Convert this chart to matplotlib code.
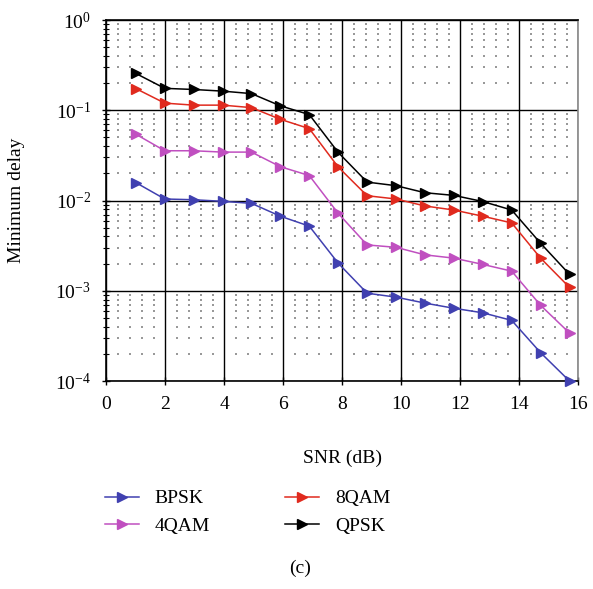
import matplotlib
matplotlib.use('agg')
import matplotlib.pyplot as plt
import numpy as np
from matplotlib.ticker import LogLocator, MultipleLocator, NullFormatter

plt.rcParams['font.family'] = ['Liberation Serif', 'DejaVu Serif']
plt.rcParams['mathtext.fontset'] = 'stix'

snr = [1.0, 1.98, 2.96, 3.94, 4.92, 5.9, 6.88, 7.86, 8.84, 9.82,
       10.8, 11.78, 12.76, 13.74, 14.72, 15.7]

bpsk = [0.0158, 0.0104, 0.0102, 0.0098, 0.0093, 0.0067, 0.0052, 0.00202,
        0.00094, 0.00085, 0.00073, 0.00064, 0.00057, 0.00047, 0.000206, 0.0001]
qam4 = [0.0543, 0.0356, 0.0356, 0.0344, 0.0344, 0.0237, 0.0189, 0.0072,
        0.00322, 0.00303, 0.0025, 0.0023, 0.00196, 0.00165, 0.00069, 0.00034]
qam8 = [0.174, 0.12, 0.114, 0.114, 0.107, 0.0794, 0.0626, 0.0235,
        0.0113, 0.0104, 0.0087, 0.00785, 0.0067, 0.00565, 0.0023, 0.00109]
qpsk = [0.256, 0.175, 0.170, 0.163, 0.153, 0.112, 0.0896, 0.0341,
        0.016, 0.0146, 0.0122, 0.0114, 0.00975, 0.00785, 0.00336, 0.00152]

series = [('BPSK', bpsk, '#4040b0'), ('4QAM', qam4, '#c04fc0'),
          ('8QAM', qam8, '#e02a1e'), ('QPSK', qpsk, '#000000')]

fig = plt.figure(figsize=(5.93, 5.89), dpi=100)
ax = fig.add_axes([0.1793, 0.3531, 0.7960, 0.6129])

ax.set_yscale('log')
ax.set_xlim(0, 16)
ax.set_ylim(1e-4, 1)

# dotted minor grid: dots at minor-x / minor-y intersections
xm = [v for v in np.arange(0.4, 16, 0.4) if abs(v / 2 - round(v / 2)) > 1e-6]
ym = [m * 10.0 ** e for e in range(-4, 0) for m in range(2, 10)]
gx, gy = np.meshgrid(xm, ym)
ax.scatter(gx.ravel(), gy.ravel(), s=0.7, marker='s', color='#999999',
           linewidths=0, zorder=1)

ax.grid(which='major', color='black', linewidth=1.0, zorder=1)

handles = []
for name, vals, col in series:
    h, = ax.plot(snr, vals, color=col, marker='>', markersize=7,
                 linewidth=1.1, label=name, zorder=3, clip_on=False)
    handles.append(h)

ax.xaxis.set_major_locator(MultipleLocator(2))
ax.yaxis.set_major_locator(LogLocator(base=10, numticks=10))
ax.yaxis.set_minor_locator(LogLocator(base=10, subs=np.arange(2, 10), numticks=10))
ax.yaxis.set_minor_formatter(NullFormatter())
ax.tick_params(axis='both', which='major', direction='inout', length=6,
               width=1.0, labelsize=14)
ax.tick_params(axis='x', which='major', pad=8)
ax.tick_params(axis='y', which='major', pad=8)
ax.tick_params(axis='y', which='minor', direction='inout', length=4, width=0.8)
ax.tick_params(axis='x', which='minor', length=0)
for s in ax.spines.values():
    s.set_linewidth(1.2)
ax.spines['right'].set_color('#888888')

ax.set_xlabel('SNR (dB)', fontsize=14, labelpad=26)
ax.set_ylabel('Minimum delay', fontsize=14, labelpad=22)

order = [handles[0], handles[1], handles[2], handles[3]]
fig.legend(order, [h.get_label() for h in order], ncol=2, frameon=False,
           fontsize=14, loc='upper left', bbox_to_anchor=(0.147, 0.198),
           columnspacing=3.9, handlelength=1.75, labelspacing=0.5)

fig.text(0.506, 0.027, '(c)', ha='center', fontsize=14)

fig.savefig('out.png', dpi=100)
